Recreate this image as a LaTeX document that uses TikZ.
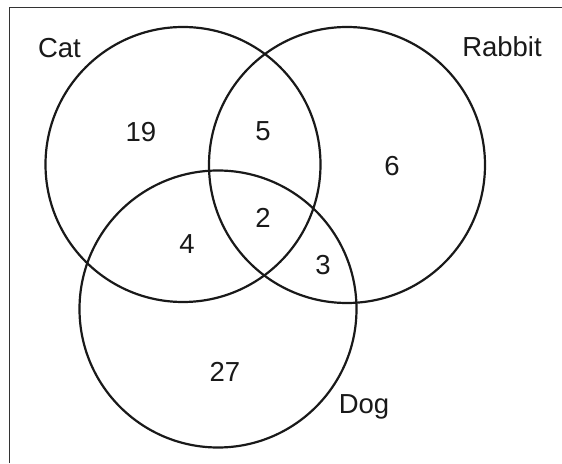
\documentclass[tikz,border=0pt]{standalone}
\usepackage{fontspec}
\setmainfont{Liberation Sans}
\begin{document}
\begin{tikzpicture}[x=1pt,y=1pt,
  ring/.style={line width=2.2pt, draw=black!90},
  framel/.style={line width=0.9pt, draw=black!80},
  lbl/.style={anchor=base, inner sep=0pt, font=\fontsize{27.5}{30}\selectfont, text=black!90}]
\useasboundingbox (0,0) rectangle (562,463);
\draw[framel] (9,0) -- (9,456) -- (562,456);
\coordinate (cc) at (183,298.5);
\coordinate (rc) at (347,298);
\coordinate (dc) at (218,154);
\draw[ring] (cc) circle (137.5);
\draw[ring] (rc) circle (138);
\draw[ring] (dc) circle (138.5);
\node[lbl] (cat) at (59.5,405.7) {Cat};
\node[lbl] (rabbit) at (502,406) {Rabbit};
\node[lbl] (dog) at (364,49) {Dog};
\node[lbl] (n19) at (141,321.3) {19};
\node[lbl] (n5) at (263,322) {5};
\node[lbl] (n6) at (392,287) {6};
\node[lbl] (n2) at (263,235) {2};
\node[lbl] (n4) at (187,209) {4};
\node[lbl] (n3) at (323,188) {3};
\node[lbl] (n27) at (225,81) {27};
\end{tikzpicture}
\end{document}
